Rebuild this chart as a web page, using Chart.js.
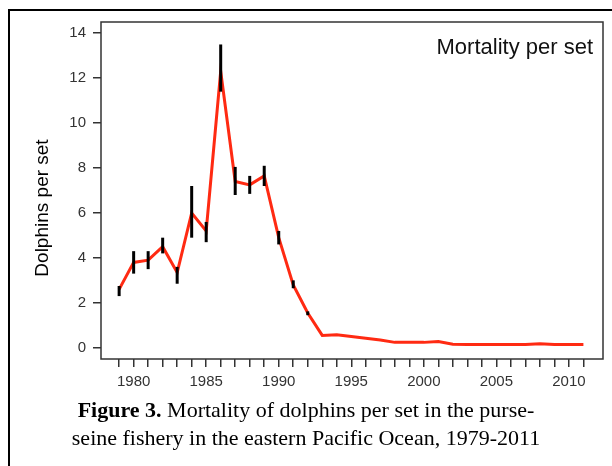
<!DOCTYPE html>
<html>
<head>
<meta charset="utf-8">
<script src="https://cdn.jsdelivr.net/npm/chart.js@4.4.0/dist/chart.umd.min.js"></script>
<style>
  body { margin:0; background:#fff; width:612px; height:466px; overflow:hidden; position:relative; }
  #box { position:absolute; left:8px; top:9px; width:640px; height:520px; border:2px solid #000; box-sizing:border-box; }
  #wrap { position:absolute; left:0; top:0; width:612px; height:400px; }
  #caption { position:absolute; left:0; top:396px; width:612px; text-align:center;
             font-family:"Liberation Serif","Times New Roman",serif; font-size:22px; line-height:28px; color:#000; }
</style>
</head>
<body>
<div id="box"></div>
<div id="wrap"><canvas id="mortality_chart"></canvas></div>
<div id="caption"><b>Figure 3.</b> Mortality of dolphins per set in the purse-<br>seine fishery in the eastern Pacific Ocean, 1979-2011</div>
<script>
// data
var years = [1979,1980,1981,1982,1983,1984,1985,1986,1987,1988,1989,1990,1991,1992,1993,1994,1995,
             1996,1997,1998,1999,2000,2001,2002,2003,2004,2005,2006,2007,2008,2009,2010,2011];
var perSet = [2.6,3.8,3.9,4.5,3.35,6.0,5.2,12.3,7.4,7.25,7.65,4.9,2.8,1.55,0.55,0.58,0.5,
              0.42,0.35,0.24,0.24,0.24,0.28,0.16,0.15,0.15,0.15,0.15,0.15,0.18,0.15,0.15,0.15];
// error bars (lower / upper), null where none is visible
var errLow  = [2.3,3.3,3.5,4.2,2.85,4.9,4.7,11.4,6.8,6.85,7.2,4.6,2.65,1.45,null,null,null,
               null,null,null,null,null,null,null,null,null,null,null,null,null,null,null,null];
var errHigh = [2.75,4.3,4.3,4.9,3.6,7.2,5.6,13.5,8.05,7.65,8.1,5.2,3.0,1.62,null,null,null,
               null,null,null,null,null,null,null,null,null,null,null,null,null,null,null,null];
var yTicks = [0,2,4,6,8,10,12,14];
var yearLabels = [1980,1985,1990,1995,2000,2005,2010];

var points = years.map(function(y, i){ return {x: y, y: perSet[i]}; });

var errorBars = {
  id: 'errorBars',
  afterDatasetsDraw: function(chart){
    var ctx = chart.ctx, xs = chart.scales.x, ys = chart.scales.y;
    ctx.save();
    ctx.strokeStyle = '#000';
    ctx.lineWidth = 3;
    for (var i = 0; i < years.length; i++) {
      if (errLow[i] == null) continue;
      var x = xs.getPixelForValue(years[i]);
      ctx.beginPath();
      ctx.moveTo(x, ys.getPixelForValue(errLow[i]));
      ctx.lineTo(x, ys.getPixelForValue(errHigh[i]));
      ctx.stroke();
    }
    ctx.restore();
  }
};

// box around the plot, note in the corner, y title
var frameAndNote = {
  id: 'frameAndNote',
  afterDraw: function(chart){
    var ctx = chart.ctx, a = chart.chartArea;
    ctx.save();
    ctx.strokeStyle = '#333';
    ctx.lineWidth = 1.5;
    ctx.strokeRect(a.left, a.top, a.right - a.left, a.bottom - a.top);
    ctx.fillStyle = '#111';
    ctx.font = '22px "Liberation Sans", Arial, sans-serif';
    ctx.textAlign = 'right';
    ctx.textBaseline = 'middle';
    ctx.fillText('Mortality per set', a.right - 10, a.top + 26);

    ctx.translate(43, 208);
    ctx.rotate(-Math.PI / 2);
    ctx.textAlign = 'center';
    ctx.fillStyle = '#000';
    ctx.font = '19px "Liberation Sans", Arial, sans-serif';
    ctx.fillText('Dolphins per set', 0, 0);
    ctx.restore();
  }
};

var c1 = document.getElementById("mortality_chart").getContext("2d");

var mortality_chart = new Chart(c1, {
  type: 'line',
  data: {
    datasets: [{
      label: 'Mortality per set',
      data: points,
      borderColor: '#ff2a12',
      borderWidth: 3,
      pointRadius: 0,
      tension: 0,
      fill: false
    }]
  },
  options: {
    responsive: true,
    maintainAspectRatio: false,
    animation: false,
    layout: { padding: { top: 22, right: 9, left: 0, bottom: 0 } },
    plugins: {
      legend: { display: false },
      tooltip: { enabled: false }
    },
    scales: {
      x: {
        type: 'linear',
        min: 1977.75,
        max: 2012.35,
        border: { display: false },
        grid: { drawOnChartArea: false, drawTicks: true, tickLength: 8, color: '#333', lineWidth: 1.5 },
        afterBuildTicks: function(scale){
          scale.ticks = years.map(function(v){ return {value: v}; });
        },
        afterFit: function(scale){ scale.height = 41; },
        ticks: {
          autoSkip: false,
          maxRotation: 0,
          padding: 6,
          color: '#333',
          font: { family: '"Liberation Sans", Arial, sans-serif', size: 15 },
          callback: function(v){ return yearLabels.indexOf(v) >= 0 ? String(v) : ''; }
        }
      },
      y: {
        min: -0.5,
        max: 14.5,
        border: { display: false },
        grid: { drawOnChartArea: false, drawTicks: true, tickLength: 8, color: '#333', lineWidth: 1.5 },
        afterBuildTicks: function(scale){
          scale.ticks = yTicks.map(function(v){ return {value: v}; });
        },
        afterFit: function(scale){ scale.width = 101; },
        ticks: {
          padding: 7,
          color: '#333',
          font: { family: '"Liberation Sans", Arial, sans-serif', size: 15 }
        }
      }
    }
  },
  plugins: [errorBars, frameAndNote]
});
</script>
</body>
</html>
